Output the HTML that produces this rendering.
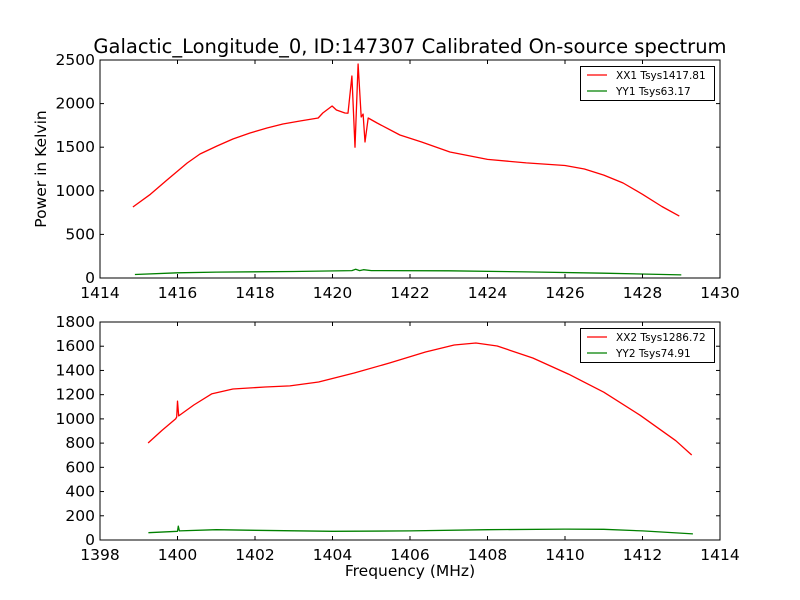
<!DOCTYPE html>
<html><head><meta charset="utf-8"><style>
body{margin:0;background:#fff;}
svg{display:block;font-family:"DejaVu Sans","Liberation Sans",sans-serif;}
</style></head><body>
<svg id="c" width="800" height="600" xmlns="http://www.w3.org/2000/svg">
<rect width="800" height="600" fill="#fff"/>
<text x="410" y="53" font-size="19.5" text-anchor="middle">Galactic_Longitude_0, ID:147307 Calibrated On-source spectrum</text>
<text x="46" y="169" font-size="15.5" text-anchor="middle" transform="rotate(-90 46 169)">Power in Kelvin</text>
<text x="410" y="576" font-size="15.5" text-anchor="middle">Frequency (MHz)</text>
</svg>
<script>
const topXX1F=[1414.85,1415.3,1415.73,1416.25,1416.58,1417.02,1417.43,1417.87,1418.31,1418.72,1419.16,1419.63,1419.75,1419.99,1420.1,1420.32,1420.4,1420.5,1420.58,1420.66,1420.74,1420.79,1420.84,1420.92,1421.15,1421.74,1422.3,1423.03,1424,1425,1426,1426.5,1427,1427.5,1428,1428.5,1428.95];
const topXX1V=[814,960,1124,1319,1422,1514,1594,1663,1720,1766,1800,1835,1892,1972,1927,1892,1890,2316,1500,2454,1846,1880,1560,1835,1778,1640,1560,1445,1360,1320,1290,1250,1180,1090,960,820,710];
const topYY1F=[1414.9,1416,1417,1419,1420.5,1420.6,1420.7,1420.8,1421,1423,1425,1427,1429];
const topYY1V=[40,60,68,75,85,100,85,95,85,82,70,55,35];
const botXX2F=[1399.24,1399.6,1399.95,1399.98,1400.0,1400.03,1400.42,1400.88,1401.43,1402.26,1402.9,1403.64,1404.56,1405.48,1406.4,1407.14,1407.7,1408.25,1409.17,1410.09,1411,1411.94,1412.86,1413.27];
const botXX2V=[801,905,1000,1016,1147,1025,1115,1206,1247,1263,1272,1305,1379,1462,1552,1610,1627,1602,1503,1370,1220,1030,820,702];
const botYY2F=[1399.25,1400,1400.02,1400.05,1401,1402,1404,1406,1408,1410,1411,1412,1413.3];
const botYY2V=[60,72,115,75,85,80,72,75,85,90,88,75,50];
const topXTicks=[1414,1416,1418,1420,1422,1424,1426,1428,1430];
const topYTicks=[0,500,1000,1500,2000,2500];
const botXTicks=[1398,1400,1402,1404,1406,1408,1410,1412,1414];
const botYTicks=[0,200,400,600,800,1000,1200,1400,1600,1800];
const NS="http://www.w3.org/2000/svg";
const svg=document.getElementById('c');
function mk(t,a,p){const e=document.createElementNS(NS,t);for(const k in a)e.setAttribute(k,a[k]);(p||svg).appendChild(e);return e;}
function panel(name,top,x0,x1,y0,y1,xt,yt,series,leg){
  const L=100,R=720,T=top,B=top+218;
  const sx=v=>L+(v-x0)/(x1-x0)*(R-L), sy=v=>B-(v-y0)/(y1-y0)*(B-T);
  const g=mk('g',{});
  
  
  series.forEach(s=>{
    const d=s.f.map((f,i)=>(i?'L':'M')+sx(f).toFixed(1)+','+sy(s.v[i]).toFixed(1)).join('');
    const p=mk('path',{d:d,fill:'none',stroke:s.c,'stroke-width':1.3,'stroke-linejoin':'round'},g);
    
    
  });
  xt.forEach(v=>{const x=sx(v);
    mk('line',{x1:x,x2:x,y1:B,y2:B-4,stroke:'#000'},g);mk('line',{x1:x,x2:x,y1:T,y2:T+4,stroke:'#000'},g);
    const t=mk('text',{x:x,y:B+20,'font-size':15.5,'text-anchor':'middle'},g);t.textContent=v;
    
    });
  yt.forEach(v=>{const y=sy(v);
    mk('line',{x1:L,x2:L+4,y1:y,y2:y,stroke:'#000'},g);mk('line',{x1:R,x2:R-4,y1:y,y2:y,stroke:'#000'},g);
    const t=mk('text',{x:L-5,y:y+5,'font-size':15.5,'text-anchor':'end'},g);t.textContent=v;
    
    });
  mk('rect',{x:L,y:T,width:R-L,height:B-T,fill:'none',stroke:'#000','stroke-width':1},g);
  const lg=mk('g',{},g);
  
  
  const ly=T+6;
  mk('rect',{x:580.5,y:ly+0.5,width:134,height:34,fill:'#fff',stroke:'#000'},lg);
  leg.forEach((l,i)=>{const yy=ly+9+i*16;
    mk('line',{x1:587,x2:607,y1:yy,y2:yy,stroke:l.c,'stroke-width':1.2},lg);
    const t=mk('text',{x:616,y:yy+4,'font-size':10.5},lg);t.textContent=l.t;
    
    });
}
panel('top-panel',60,1414,1430,0,2500,topXTicks,topYTicks,
  [{f:topXX1F,v:topXX1V,c:'#ff0000',n:'xx1-line'},{f:topYY1F,v:topYY1V,c:'#008000',n:'yy1-line'}],
  [{c:'#ff0000',t:'XX1 Tsys1417.81'},{c:'#008000',t:'YY1 Tsys63.17'}]);
panel('bottom-panel',322,1398,1414,0,1800,botXTicks,botYTicks,
  [{f:botXX2F,v:botXX2V,c:'#ff0000',n:'xx2-line'},{f:botYY2F,v:botYY2V,c:'#008000',n:'yy2-line'}],
  [{c:'#ff0000',t:'XX2 Tsys1286.72'},{c:'#008000',t:'YY2 Tsys74.91'}]);
</script>
</body></html>
